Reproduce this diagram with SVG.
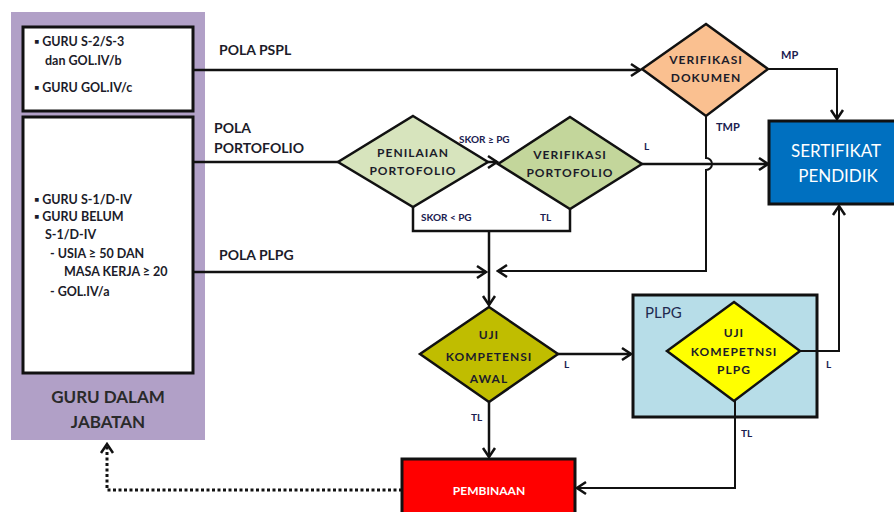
<svg xmlns="http://www.w3.org/2000/svg" width="894" height="512" viewBox="0 0 894 512">
<defs>
<style>
text{font-family:Lato,"Liberation Sans",sans-serif;fill:#1c1c2a}
.box{fill:#fff;stroke:#111;stroke-width:3}
.bt{font-size:12.5px;font-weight:bold}
.lbl{font-size:14px;font-weight:bold}
.sm{font-size:10px;font-weight:bold;fill:#1a2050}
.dt{font-size:12px;font-weight:bold;text-anchor:middle;letter-spacing:1px}
.dia{stroke:#111;stroke-width:2.5}
.ln{fill:none;stroke:#111;stroke-width:2.5}
.thin{fill:none;stroke:#111;stroke-width:2}
.wt{fill:#fff;text-anchor:middle}
</style>
<marker id="ah" viewBox="-11 -8 13 16" markerWidth="13" markerHeight="16" refX="0" refY="0" orient="auto" markerUnits="userSpaceOnUse">
<path d="M-9,-6 L0,0 L-9,6" fill="none" stroke="#111" stroke-width="2.5"/>
</marker>
</defs>

<g id="guru-dalam-jabatan">
<rect x="11" y="12" width="194" height="428" fill="#b1a0c7"/>
<text x="108" y="403" text-anchor="middle" style="font-size:17px;font-weight:bold;fill:#2a2a2a">GURU DALAM</text>
<text x="108" y="428" text-anchor="middle" style="font-size:17px;font-weight:bold;fill:#2a2a2a">JABATAN</text>
</g>

<g id="box-pspl">
<rect class="box" x="23" y="27" width="170" height="84"/>
<text class="bt" x="34" y="46">▪ GURU S-2/S-3</text>
<text class="bt" x="45" y="65">dan GOL.IV/b</text>
<text class="bt" x="34" y="92">▪ GURU GOL.IV/c</text>
</g>

<g id="box-lain">
<rect class="box" x="23" y="117" width="170" height="256"/>
<text class="bt" x="34" y="204">▪ GURU S-1/D-IV</text>
<text class="bt" x="34" y="221">▪ GURU BELUM</text>
<text class="bt" x="45" y="239">S-1/D-IV</text>
<text class="bt" x="50" y="258">-  USIA ≥ 50 DAN</text>
<text class="bt" x="64" y="276">MASA KERJA ≥ 20</text>
<text class="bt" x="50" y="296">-  GOL.IV/a</text>
</g>

<g id="verifikasi-dokumen">
<polygon class="dia" points="706,24 768,69 706,116 642,69" fill="#fac090"/>
<text class="dt" x="706" y="64">VERIFIKASI</text>
<text class="dt" x="706" y="82">DOKUMEN</text>
</g>

<g id="penilaian-portofolio">
<polygon class="dia" points="413,116 488,162 413,207 338,162" fill="#d7e4bd"/>
<text class="dt" x="413" y="157">PENILAIAN</text>
<text class="dt" x="413" y="175">PORTOFOLIO</text>
</g>

<g id="verifikasi-portofolio">
<polygon class="dia" points="570,117 642,164 570,209 498,164" fill="#c3d69b"/>
<text class="dt" x="570" y="159">VERIFIKASI</text>
<text class="dt" x="570" y="177">PORTOFOLIO</text>
</g>

<g id="sertifikat-pendidik">
<rect x="769" y="121" width="140" height="83" fill="#0070c0" stroke="#111" stroke-width="3"/>
<text class="wt" x="836" y="157" style="font-size:17px">SERTIFIKAT</text>
<text class="wt" x="838" y="182" style="font-size:17px">PENDIDIK</text>
</g>

<g id="uji-kompetensi-awal">
<polygon class="dia" points="489,307 558,354 489,402 420,354" fill="#c0bd00"/>
<text class="dt" x="489" y="339">UJI</text>
<text class="dt" x="489" y="361">KOMPETENSI</text>
<text class="dt" x="489" y="383">AWAL</text>
</g>

<g id="plpg">
<rect x="633" y="295" width="184" height="122" fill="#b7dde8" stroke="#111" stroke-width="3"/>
<text x="645" y="318" style="font-size:15px;fill:#1f2a50">PLPG</text>
</g>

<g id="uji-kompetensi-plpg">
<polygon class="dia" points="734,302 800,351 734,401 667,351" fill="#ffff00"/>
<text class="dt" x="734" y="337">UJI</text>
<text class="dt" x="734" y="356">KOMEPETNSI</text>
<text class="dt" x="734" y="374">PLPG</text>
</g>

<g id="pembinaan">
<rect x="402" y="459" width="173" height="60" fill="#ff0000" stroke="#111" stroke-width="3"/>
<text class="wt" x="489" y="495" style="font-size:12px;font-weight:bold">PEMBINAAN</text>
</g>

<g id="connectors">
<path class="ln" d="M193,70 H640" marker-end="url(#ah)"/>
<path class="ln" d="M193,162 H338"/>
<path class="ln" d="M488,162 H497" marker-end="url(#ah)"/>
<path class="ln" d="M642,164 H768" marker-end="url(#ah)"/>
<path class="thin" d="M768,69 H837 V119" marker-end="url(#ah)"/>
<path class="thin" d="M706,116 V158 a6,6 0 0 1 0,12 V271 H498" marker-end="url(#ah)"/>
<path class="ln" d="M413,207 V231 H570 V209"/>
<path class="ln" d="M489,231 V305" marker-end="url(#ah)"/>
<path class="ln" d="M193,272 H486" marker-end="url(#ah)"/>
<path class="ln" d="M558,354 H631" marker-end="url(#ah)"/>
<path class="ln" d="M489,402 V457" marker-end="url(#ah)"/>
<path class="thin" d="M800,351 H839 V206" marker-end="url(#ah)"/>
<path class="thin" d="M735,401 V488 H577" marker-end="url(#ah)"/>
<path d="M402,490 H107 V444" fill="none" stroke="#111" stroke-width="3" stroke-dasharray="3,2.5" marker-end="url(#ah)"/>
<text class="lbl" x="219" y="55">POLA PSPL</text>
<text class="lbl" x="214" y="133">POLA</text>
<text class="lbl" x="214" y="153">PORTOFOLIO</text>
<text class="lbl" x="219" y="260">POLA PLPG</text>
<text class="sm" x="459" y="143">SKOR ≥ PG</text>
<text class="sm" x="421" y="221">SKOR &lt; PG</text>
<text class="sm" x="540" y="221">TL</text>
<text class="sm" x="644" y="150">L</text>
<text class="sm" x="781" y="59" style="font-size:11px">MP</text>
<text class="sm" x="716" y="131" style="font-size:11px">TMP</text>
<text class="sm" x="564" y="368">L</text>
<text class="sm" x="471" y="421">TL</text>
<text class="sm" x="826" y="368">L</text>
<text class="sm" x="741" y="437">TL</text>
</g>
</svg>
